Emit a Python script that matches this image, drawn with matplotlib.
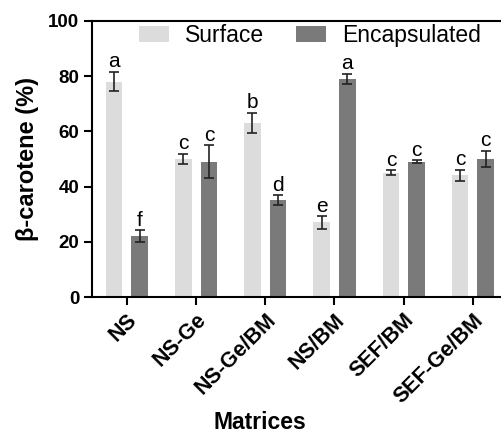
import numpy as np
import matplotlib.pyplot as plt

plt.rcParams['font.family'] = ['Liberation Sans', 'DejaVu Sans']

# data
matrices = ["NS", "NS-Ge", "NS-Ge/BM", "NS/BM", "SEF/BM", "SEF-Ge/BM"]
surface = [78, 50, 63, 27, 45, 44]
surface_err = [3.5, 1.8, 3.7, 2.3, 0.9, 2.1]
encapsulated = [22, 49, 35, 79, 49, 50]
encapsulated_err = [2.2, 6.0, 1.8, 1.8, 0.5, 2.9]
surface_letters = ["a", "c", "b", "e", "c", "c"]
encapsulated_letters = ["f", "c", "d", "a", "c", "c"]

fig = plt.figure(figsize=(5.02, 4.33), dpi=100)
ax = fig.add_axes([0.183, 0.314, 0.817, 0.638])

x = np.arange(len(matrices))
off = 0.185
w = 0.24
ekw = dict(ecolor='#222222', elinewidth=1.2, capsize=3.5, capthick=1.2)
ax.bar(x - off, surface, w, yerr=surface_err, color='#dcdcdc',
       label='Surface', error_kw=ekw)
ax.bar(x + off, encapsulated, w, yerr=encapsulated_err, color='#7a7a7a',
       label='Encapsulated', error_kw=ekw)

for i in range(len(matrices)):
    ax.text(x[i] - off, surface[i] + surface_err[i] + 0.2, surface_letters[i],
            ha='center', va='bottom', fontsize=15)
    ax.text(x[i] + off, encapsulated[i] + encapsulated_err[i] + 0.2,
            encapsulated_letters[i], ha='center', va='bottom', fontsize=15)

ax.set_xlim(-0.505, 5.42)
ax.set_ylim(0, 100)
ax.set_yticks([0, 20, 40, 60, 80, 100])
ax.set_xticks(x)
ax.set_xticklabels(matrices, rotation=45, ha='right', rotation_mode='anchor',
                   fontsize=15.5, fontweight='bold')
for lab in ax.get_yticklabels():
    lab.set_fontsize(13.5)
    lab.set_fontweight('bold')
ax.tick_params(axis='both', direction='out', length=6, width=1.5, pad=3)

for s in ['left', 'bottom', 'top']:
    ax.spines[s].set_linewidth(1.5)
ax.spines['right'].set_visible(False)

ax.set_ylabel('β-carotene (%)', fontsize=17, fontweight='bold', labelpad=7)
fig.text(260 / 502, 0.025, 'Matrices', ha='center', va='center',
         fontsize=16.5, fontweight='bold')

ax.legend(loc='center left', bbox_to_anchor=(0.1146, 0.947), ncol=2,
          frameon=False, fontsize=16.5, handlelength=1.3, handleheight=0.65,
          columnspacing=1.4, handletextpad=0.7, borderaxespad=0, borderpad=0)

fig.savefig('out.png', dpi=100)
